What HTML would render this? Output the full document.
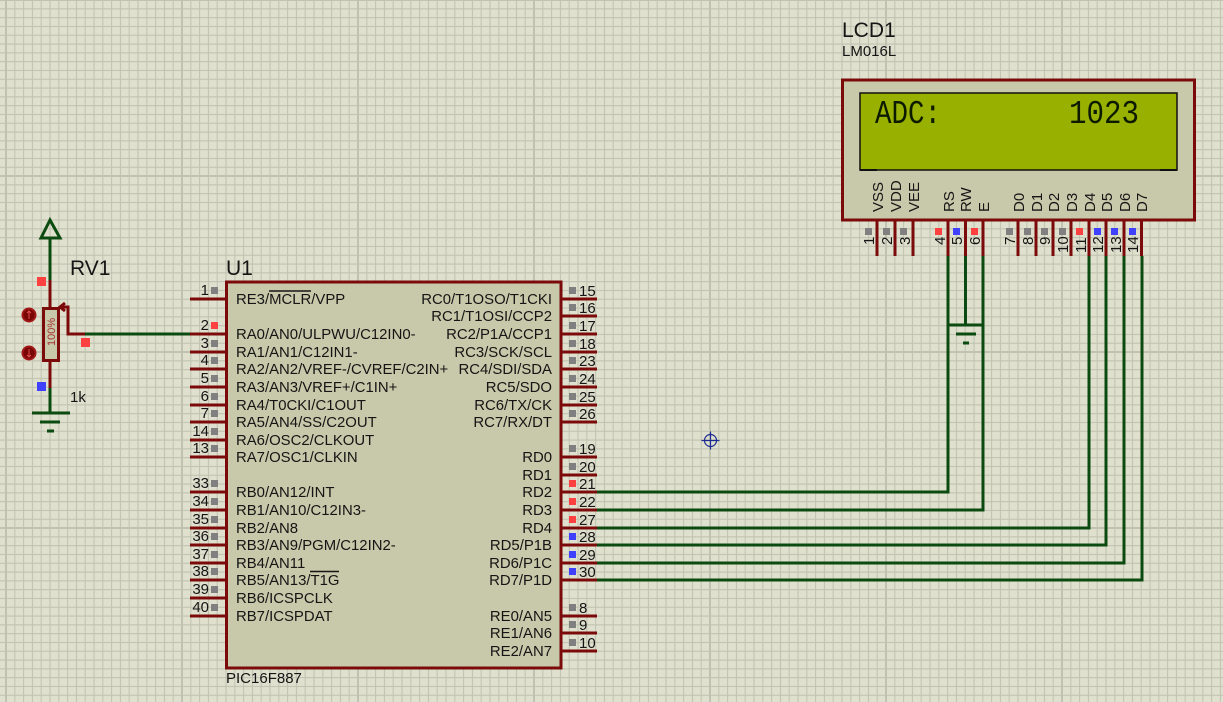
<!DOCTYPE html>
<html><head><meta charset="utf-8"><style>
html,body{margin:0;padding:0;width:1223px;height:702px;overflow:hidden;background:#e0e0ce}
svg{display:block}
text{font-family:"Liberation Sans",Arial,sans-serif;fill:#151515}
.l{font-size:14.9px}
.r{font-size:14.9px;text-anchor:end}
.n{font-size:15px}
.e{font-size:15px;text-anchor:end}
.p path{fill:none;stroke:#7b0a0a;stroke-width:3}
.w path{fill:none;stroke:#0b4a10;stroke-width:3}
.g{fill:#808080}.R{fill:#ff4040}.B{fill:#4040ff}
</style></head><body>
<svg xmlns="http://www.w3.org/2000/svg" width="1223" height="702" viewBox="0 0 1223 702">
<defs>
<pattern id="m" patternUnits="userSpaceOnUse" x="5.5" y="-0.5" width="8.8" height="8.8"><path d="M.5 0V8.8M0 .5H8.8" stroke="#c0c3b1" stroke-width="1.1" fill="none"/></pattern>
<pattern id="M" patternUnits="userSpaceOnUse" x="5" y="-1" width="176" height="176"><path d="M1 0V176M0 1H176" stroke="#c0c3b2" stroke-width="2" fill="none"/></pattern>
</defs>
<rect width="1223" height="702" fill="#e0e0ce"/>
<rect width="1223" height="702" fill="url(#m)"/>
<rect width="1223" height="702" fill="url(#M)"/>

<!-- wires -->
<g class="w">
<path d="M50 238V280M50 388V413M32 413H70M40 422H60M47 431H54"/>
<path d="M85 334H190"/>
<path d="M597 492H948V256M597 510H983V256M597 528H1089V256M597 545H1106V256M597 563H1124V256M597 580H1142V256"/>
<path d="M965.500 256V325M948 325H983M956 334H976M963 343H969"/>
<path d="M50 220L41 238H60Z"/>
</g>

<!-- RV1 -->
<g class="p">
<path d="M50 280V308M50 361V388"/>
<path d="M61 307H68V334H85"/>
<path d="M65 303L60 307L65 311"/>
</g>
<rect x="43.500" y="308.500" width="15" height="52" fill="#c8c8aa" stroke="#7b0a0a" stroke-width="3"/>
<text transform="translate(55,346) rotate(-90)" style="font-size:11px;fill:#a83030">100%</text>
<circle cx="29" cy="315" r="6.500" fill="#7a0505" stroke="#a01818" stroke-width="2"/>
<circle cx="29" cy="353" r="6.500" fill="#7a0505" stroke="#a01818" stroke-width="2"/>
<path d="M29 319V311M27 313L29 311L31 313M29 349V357M27 355L29 357L31 355" stroke="#e05050" stroke-width="1" fill="none"/>
<rect class="R" x="37" y="277" width="9" height="9"/>
<rect class="R" x="81" y="338" width="9" height="9"/>
<rect class="B" x="37" y="382" width="9" height="9"/>
<text x="70" y="275" style="font-size:21px">RV1</text>
<text x="70" y="402" style="font-size:15px">1k</text>

<!-- U1 -->
<rect x="226.500" y="282" width="334.500" height="386" fill="#c8c8aa" stroke="#7b0a0a" stroke-width="3"/>
<text x="226" y="275" style="font-size:21px">U1</text>
<text x="226" y="683" style="font-size:15px">PIC16F887</text>
<g class="p"><path d="M190 299H226M190 334H226M190 352H226M190 369H226M190 387H226M190 405H226M190 422H226M190 440H226M190 457H226M190 492H226M190 510H226M190 528H226M190 545H226M190 563H226M190 580H226M190 598H226M190 616H226"/>
<path d="M561 299H597M561 316H597M561 334H597M561 352H597M561 369H597M561 387H597M561 405H597M561 422H597M561 457H597M561 475H597M561 492H597M561 510H597M561 528H597M561 545H597M561 563H597M561 580H597M561 616H597M561 633H597M561 651H597"/></g>

<g class="g">
<rect x="211" y="287" width="7" height="7"/><rect x="211" y="357" width="7" height="7"/><rect x="211" y="340" width="7" height="7"/><rect x="211" y="375" width="7" height="7"/><rect x="211" y="393" width="7" height="7"/><rect x="211" y="410" width="7" height="7"/><rect x="211" y="428" width="7" height="7"/><rect x="211" y="445" width="7" height="7"/><rect x="211" y="480" width="7" height="7"/><rect x="211" y="498" width="7" height="7"/><rect x="211" y="516" width="7" height="7"/><rect x="211" y="533" width="7" height="7"/><rect x="211" y="551" width="7" height="7"/><rect x="211" y="568" width="7" height="7"/><rect x="211" y="586" width="7" height="7"/><rect x="211" y="604" width="7" height="7"/>
<rect x="569" y="287" width="7" height="7"/><rect x="569" y="304" width="7" height="7"/><rect x="569" y="322" width="7" height="7"/><rect x="569" y="340" width="7" height="7"/><rect x="569" y="357" width="7" height="7"/><rect x="569" y="375" width="7" height="7"/><rect x="569" y="393" width="7" height="7"/><rect x="569" y="410" width="7" height="7"/><rect x="569" y="445" width="7" height="7"/><rect x="569" y="463" width="7" height="7"/><rect x="569" y="604" width="7" height="7"/><rect x="569" y="621" width="7" height="7"/><rect x="569" y="639" width="7" height="7"/>
</g>
<rect class="R" x="211" y="322" width="7" height="7"/>
<g class="R"><rect x="569" y="480" width="7" height="7"/><rect x="569" y="498" width="7" height="7"/><rect x="569" y="516" width="7" height="7"/></g>
<g class="B"><rect x="569" y="533" width="7" height="7"/><rect x="569" y="551" width="7" height="7"/><rect x="569" y="568" width="7" height="7"/></g>

<g class="e">
<text class="e" x="209" y="295">1</text><text class="e" x="209" y="330">2</text><text class="e" x="209" y="348">3</text><text class="e" x="209" y="365">4</text><text class="e" x="209" y="383">5</text><text class="e" x="209" y="401">6</text><text class="e" x="209" y="418">7</text><text class="e" x="209" y="436">14</text><text class="e" x="209" y="453">13</text><text class="e" x="209" y="488">33</text><text class="e" x="209" y="506">34</text><text class="e" x="209" y="524">35</text><text class="e" x="209" y="541">36</text><text class="e" x="209" y="559">37</text><text class="e" x="209" y="576">38</text><text class="e" x="209" y="594">39</text><text class="e" x="209" y="612">40</text>
</g>
<g>
<text class="n" x="579" y="296">15</text><text class="n" x="579" y="313">16</text><text class="n" x="579" y="331">17</text><text class="n" x="579" y="349">18</text><text class="n" x="579" y="366">23</text><text class="n" x="579" y="384">24</text><text class="n" x="579" y="402">25</text><text class="n" x="579" y="419">26</text><text class="n" x="579" y="454">19</text><text class="n" x="579" y="472">20</text><text class="n" x="579" y="489">21</text><text class="n" x="579" y="507">22</text><text class="n" x="579" y="525">27</text><text class="n" x="579" y="542">28</text><text class="n" x="579" y="560">29</text><text class="n" x="579" y="577">30</text><text class="n" x="579" y="613">8</text><text class="n" x="579" y="630">9</text><text class="n" x="579" y="648">10</text>
</g>
<g>
<text class="l" x="236" y="304">RE3/MCLR/VPP</text>
<text class="l" x="236" y="339">RA0/AN0/ULPWU/C12IN0-</text>
<text class="l" x="236" y="357">RA1/AN1/C12IN1-</text>
<text class="l" x="236" y="374">RA2/AN2/VREF-/CVREF/C2IN+</text>
<text class="l" x="236" y="392">RA3/AN3/VREF+/C1IN+</text>
<text class="l" x="236" y="410">RA4/T0CKI/C1OUT</text>
<text class="l" x="236" y="427">RA5/AN4/SS/C2OUT</text>
<text class="l" x="236" y="445">RA6/OSC2/CLKOUT</text>
<text class="l" x="236" y="462">RA7/OSC1/CLKIN</text>
<text class="l" x="236" y="497">RB0/AN12/INT</text>
<text class="l" x="236" y="515">RB1/AN10/C12IN3-</text>
<text class="l" x="236" y="533">RB2/AN8</text>
<text class="l" x="236" y="550">RB3/AN9/PGM/C12IN2-</text>
<text class="l" x="236" y="568">RB4/AN11</text>
<text class="l" x="236" y="585">RB5/AN13/T1G</text>
<text class="l" x="236" y="603">RB6/ICSPCLK</text>
<text class="l" x="236" y="621">RB7/ICSPDAT</text>
<text class="r" x="552" y="304">RC0/T1OSO/T1CKI</text>
<text class="r" x="552" y="321">RC1/T1OSI/CCP2</text>
<text class="r" x="552" y="339">RC2/P1A/CCP1</text>
<text class="r" x="552" y="357">RC3/SCK/SCL</text>
<text class="r" x="552" y="374">RC4/SDI/SDA</text>
<text class="r" x="552" y="392">RC5/SDO</text>
<text class="r" x="552" y="410">RC6/TX/CK</text>
<text class="r" x="552" y="427">RC7/RX/DT</text>
<text class="r" x="552" y="462">RD0</text>
<text class="r" x="552" y="480">RD1</text>
<text class="r" x="552" y="497">RD2</text>
<text class="r" x="552" y="515">RD3</text>
<text class="r" x="552" y="533">RD4</text>
<text class="r" x="552" y="550">RD5/P1B</text>
<text class="r" x="552" y="568">RD6/P1C</text>
<text class="r" x="552" y="585">RD7/P1D</text>
<text class="r" x="552" y="621">RE0/AN5</text>
<text class="r" x="552" y="638">RE1/AN6</text>
<text class="r" x="552" y="656">RE2/AN7</text>
</g>
<path d="M269 291H311M310 571.500H339" stroke="#151515" stroke-width="1.500" fill="none"/>

<!-- LCD -->
<text x="842" y="37" style="font-size:21px">LCD1</text>
<text x="842" y="56" style="font-size:15px">LM016L</text>
<g class="p"><path d="M877 220V256M895 220V256M913 220V256M948 220V256M965.500 220V256M983 220V256M1018 220V256M1036 220V256M1053 220V256M1071 220V256M1089 220V256M1106 220V256M1124 220V256M1141.500 220V256"/></g>
<rect x="842.500" y="80" width="352" height="140" fill="#c8c8aa" stroke="#7b0a0a" stroke-width="3"/>
<rect x="860" y="93" width="317" height="77" fill="#98b000" stroke="#101010" stroke-width="1.500"/>
<path d="M860 170H877M1160 170H1177" stroke="#101010" stroke-width="2" fill="none"/>
<text x="875" y="123" style="font-family:'Liberation Mono',monospace;font-size:33px;fill:#0c1a00" textLength="66" lengthAdjust="spacingAndGlyphs">ADC:</text>
<text x="1069" y="123" style="font-family:'Liberation Mono',monospace;font-size:33px;fill:#0c1a00" textLength="70" lengthAdjust="spacingAndGlyphs">1023</text>

<text transform="translate(883,212) rotate(-90)" class="n">VSS</text>
<text transform="translate(901,212) rotate(-90)" class="n">VDD</text>
<text transform="translate(919,212) rotate(-90)" class="n">VEE</text>
<text transform="translate(954,212) rotate(-90)" class="n">RS</text>
<text transform="translate(971,212) rotate(-90)" class="n">RW</text>
<text transform="translate(989,212) rotate(-90)" class="n">E</text>
<text transform="translate(1024,212) rotate(-90)" class="n">D0</text>
<text transform="translate(1042,212) rotate(-90)" class="n">D1</text>
<text transform="translate(1059,212) rotate(-90)" class="n">D2</text>
<text transform="translate(1077,212) rotate(-90)" class="n">D3</text>
<text transform="translate(1095,212) rotate(-90)" class="n">D4</text>
<text transform="translate(1112,212) rotate(-90)" class="n">D5</text>
<text transform="translate(1130,212) rotate(-90)" class="n">D6</text>
<text transform="translate(1147,212) rotate(-90)" class="n">D7</text>

<g class="g"><rect x="865" y="228" width="7" height="7"/><rect x="883" y="228" width="7" height="7"/><rect x="900" y="228" width="7" height="7"/><rect x="1006" y="228" width="7" height="7"/><rect x="1024" y="228" width="7" height="7"/><rect x="1041" y="228" width="7" height="7"/><rect x="1059" y="228" width="7" height="7"/></g>
<g class="R"><rect x="935" y="228" width="7" height="7"/><rect x="971" y="228" width="7" height="7"/><rect x="1076" y="228" width="7" height="7"/></g>
<g class="B"><rect x="953" y="228" width="7" height="7"/><rect x="1094" y="228" width="7" height="7"/><rect x="1111" y="228" width="7" height="7"/><rect x="1129" y="228" width="7" height="7"/></g>

<text transform="translate(874,245) rotate(-90)" class="n">1</text>
<text transform="translate(892,245) rotate(-90)" class="n">2</text>
<text transform="translate(910,245) rotate(-90)" class="n">3</text>
<text transform="translate(945,245) rotate(-90)" class="n">4</text>
<text transform="translate(962,245) rotate(-90)" class="n">5</text>
<text transform="translate(980,245) rotate(-90)" class="n">6</text>
<text transform="translate(1015,245) rotate(-90)" class="n">7</text>
<text transform="translate(1033,245) rotate(-90)" class="n">8</text>
<text transform="translate(1050,245) rotate(-90)" class="n">9</text>
<text transform="translate(1068,253) rotate(-90)" class="n">10</text>
<text transform="translate(1086,253) rotate(-90)" class="n">11</text>
<text transform="translate(1103,253) rotate(-90)" class="n">12</text>
<text transform="translate(1121,253) rotate(-90)" class="n">13</text>
<text transform="translate(1138,253) rotate(-90)" class="n">14</text>

<!-- marker -->
<circle cx="710.500" cy="440.500" r="6" fill="none" stroke="#1a2a90" stroke-width="1.200"/>
<path d="M701.500 440.500H719.500M710.500 431.500V449.500" stroke="#1a2a90" stroke-width="1.200" fill="none"/>
</svg>
</body></html>
